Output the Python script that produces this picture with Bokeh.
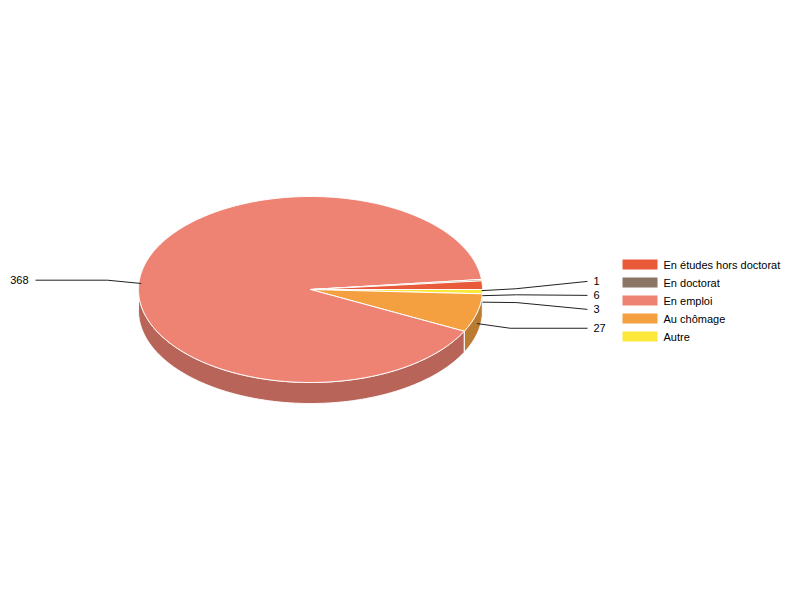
import numpy as np
from bokeh.plotting import figure
from bokeh.models import Range1d
from bokeh.core.properties import value
from bokeh.embed import file_html
from bokeh.resources import INLINE

categories = ["En études hors doctorat", "En doctorat", "En emploi", "Au chômage", "Autre"]
counts = [6, 1, 368, 27, 3]
colors = ["#E85A3A", "#8B7565", "#EF8373", "#F4A040", "#FBE83B"]
# order in which the slices run clockwise, starting at 3 o'clock
slice_order = ["Autre", "Au chômage", "En emploi", "En doctorat", "En études hors doctorat"]

FONT = value("Liberation Sans")

# pie geometry, in page pixels (y grows downward)
cx, cy = 310, 289
rx, ry = 172, 93
depth = 21
shade = 0.77


def darker(hexcol, k):
    r, g, b = (int(hexcol[i:i + 2], 16) for i in (1, 3, 5))
    return "#%02x%02x%02x" % (int(r * k), int(g * k), int(b * k))


def pt(t, a=rx, b=ry):
    t = np.radians(t)
    return cx + a * np.cos(t), cy - b * np.sin(t)


p = figure(width=784, height=584, x_range=Range1d(0, 784), y_range=Range1d(584, 0),
           x_axis_type=None, y_axis_type=None, output_backend="svg",
           toolbar_location=None, min_border=0)
p.grid.visible = False
p.outline_line_color = None

total = sum(counts)
slices = []
a = 0.0
for name in slice_order:
    i = categories.index(name)
    span = 360.0 * counts[i] / total
    slices.append((i, a, a - span))
    a -= span

# side walls (front half only)
wx, wy, wc = [], [], []
for i, a0, a1 in slices:
    for k in (-360, 0, 360):
        lo, hi = max(a1, 180 + k), min(a0, 360 + k)
        if hi > lo:
            t = np.linspace(lo, hi, max(2, int((hi - lo) * 2)))
            x, y = pt(t)
            wx.append(list(x) + list(x[::-1]))
            wy.append(list(y) + list(y[::-1] + depth))
            wc.append(darker(colors[i], shade))
p.patches(wx, wy, fill_color=wc, line_color="white", line_width=1)

# top faces
tx, ty, tc = [], [], []
for i, a0, a1 in slices:
    t = np.linspace(a0, a1, max(2, int((a0 - a1) * 2)))
    x, y = pt(t)
    tx.append([cx] + list(x))
    ty.append([cy] + list(y))
    tc.append(colors[i])
p.patches(tx, ty, fill_color=tc, line_color="white", line_width=1)

# value labels with leader lines
gap = 14
labels = []
for i, a0, a1 in slices:
    m = (a0 + a1) / 2
    ax, ay = pt(m)
    bx, by = pt(m, rx * 1.2, ry * 1.2)
    labels.append(dict(i=i, ax=ax, ay=ay + depth / 2, bx=bx, by=by + depth / 2,
                       right=np.cos(np.radians(m)) > 0))


def spread(items):
    items = sorted(items, key=lambda d: d["by"])
    clusters = []
    for d in items:
        clusters.append([d])
        while len(clusters) > 1:
            prev, last = clusters[-2], clusters[-1]
            c_prev = np.mean([e["by"] for e in prev])
            c_last = np.mean([e["by"] for e in last])
            bottom = c_prev + (len(prev) - 1) / 2 * gap
            top = c_last - (len(last) - 1) / 2 * gap
            if top - bottom < gap:
                clusters[-2:] = [prev + last]
            else:
                break
    for cl in clusters:
        c = np.mean([e["by"] for e in cl])
        for j, e in enumerate(cl):
            e["ly"] = c + (j - (len(cl) - 1) / 2) * gap


spread([d for d in labels if d["right"]])
spread([d for d in labels if not d["right"]])

lx, ly = [], []
for d in labels:
    ex = 587 if d["right"] else 35
    lx.append([d["ax"], d["bx"], ex])
    ly.append([d["ay"], d["by"], d["ly"]])
p.multi_line(lx, ly, line_color="#222222", line_width=1)

rl = [d for d in labels if d["right"]]
ll = [d for d in labels if not d["right"]]
p.text([593] * len(rl), [d["ly"] for d in rl], text=[str(counts[d["i"]]) for d in rl],
       text_font=FONT, text_font_size="11px", text_baseline="middle", text_align="left",
       text_color="#000000")
p.text([28] * len(ll), [d["ly"] for d in ll], text=[str(counts[d["i"]]) for d in ll],
       text_font=FONT, text_font_size="11px", text_baseline="middle", text_align="right",
       text_color="#000000")

# legend
ly0, lstep = 264, 18
rows = [ly0 + lstep * j for j in range(len(categories))]
p.rect([639.5] * len(categories), rows, width=35, height=10, fill_color=colors,
       line_color=None)
p.text([663] * len(categories), rows, text=categories, text_font=FONT,
       text_font_size="11px", text_baseline="middle", text_color="#000000")

open("out.html", "w").write(file_html(p, INLINE))
